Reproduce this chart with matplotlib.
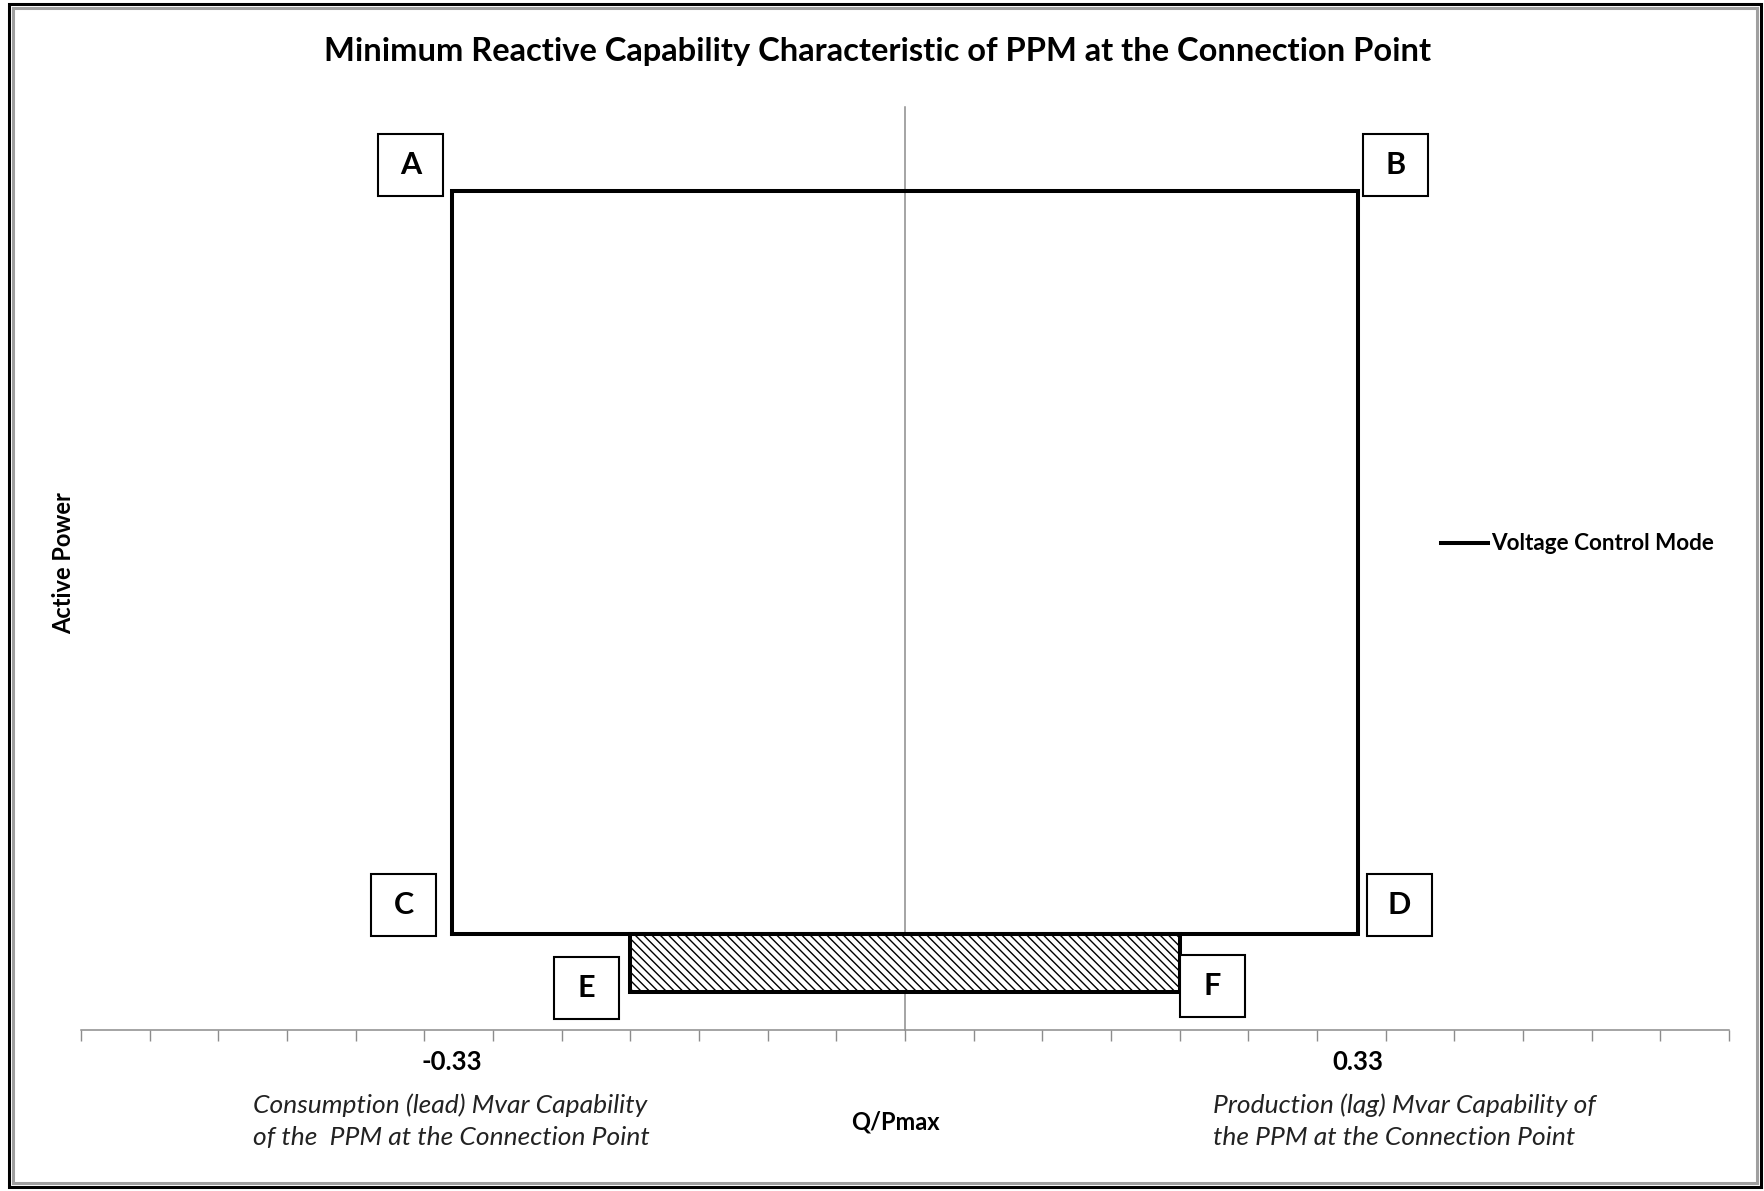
import matplotlib.pyplot as plt
import numpy as np
from matplotlib.patches import Rectangle

plt.rcParams["font.family"] = "Lato"

# ===============================
# capability envelope C -> A -> B -> D -> C  (Q/Pmax, active power p.u.)
env_q = [-0.33, -0.33, 0.33, 0.33, -0.33]
env_p = [0.115, 1.0, 1.0, 0.115, 0.115]

# hatched low-power band E-F
band_q = [-0.2, 0.2]
band_p = [0.045, 0.115]

# corner labels
pt_names = ['A', 'B', 'C', 'D', 'E', 'F']
pt_q = [-0.36, 0.357, -0.365, 0.36, -0.232, 0.224]
pt_p = [1.031, 1.031, 0.149, 0.149, 0.050, 0.052]

tick_vals = [-0.33, 0.33]
tick_text = ['-0.33', '0.33']

# ===============================
W, H = 1765, 1191
fig = plt.figure(figsize=(W / 100, H / 100), dpi=100)
ax = fig.add_axes([81 / W, 161 / H, (1729 - 81) / W, (1084 - 161) / H])
ax.set_xlim(-0.6, 0.6)
ax.set_ylim(0, 1.1)

grey = '#8c8c8c'
for s in ['top', 'right']:
    ax.spines[s].set_visible(False)
ax.spines['left'].set_position(('data', 0))
ax.spines['left'].set_color(grey)
ax.spines['bottom'].set_color(grey)
ax.spines['left'].set_linewidth(1.1)
ax.spines['bottom'].set_linewidth(1.1)
ax.set_yticks([])
ax.set_xticks(np.linspace(-0.6, 0.6, 25))
ax.set_xticklabels([])
ax.tick_params(axis='x', direction='out', length=8, width=1, color=grey)

# envelope
ax.plot(env_q, env_p, color='black', lw=2.9, solid_joinstyle='miter',
        label='Voltage Control Mode', zorder=4)

# hatched band
plt.rcParams['hatch.color'] = '#8a8a8a'
plt.rcParams['hatch.linewidth'] = 1.0
ax.add_patch(Rectangle((band_q[0], band_p[0]), band_q[1] - band_q[0], band_p[1] - band_p[0],
                       facecolor='white', edgecolor='black', lw=2.9, hatch='\\\\\\\\',
                       zorder=3))

# letter boxes
bw, bh = 65 / 1374, 62 / 839
for n, q, p in zip(pt_names, pt_q, pt_p):
    ax.add_patch(Rectangle((q - bw / 2, p - bh / 2), bw, bh, facecolor='white',
                           edgecolor='black', lw=1.5, clip_on=False, zorder=5))
    ax.text(q, p, n, ha='center', va='center', fontsize=22, fontweight='bold', zorder=6)

# +/-0.33 labels
for v, t in zip(tick_vals, tick_text):
    ax.text(v, -0.038, t, ha='center', va='center', fontsize=18.5, fontweight='bold',
            clip_on=False)

# texts
fig.text(878 / W, 1 - 51 / H, 'Minimum Reactive Capability Characteristic of PPM at the Connection Point',
         ha='center', va='center', fontsize=23.5, fontweight='bold')
fig.text(64 / W, 1 - 563 / H, 'Active Power', rotation=90, ha='center', va='center',
         fontsize=17, fontweight='bold')
fig.text(895 / W, 1 - 1122 / H, 'Q/Pmax', ha='center', va='center', fontsize=17, fontweight='bold')
fig.text(253 / W, 1 - 1121 / H, 'Consumption (lead) Mvar Capability\nof the  PPM at the Connection Point',
         ha='left', va='center', fontsize=19, style='italic', linespacing=1.45, color='#222222')
fig.text(1213 / W, 1 - 1121 / H, 'Production (lag) Mvar Capability of\nthe PPM at the Connection Point',
         ha='left', va='center', fontsize=19, style='italic', linespacing=1.45, color='#222222')

ax.legend(loc='center left', bbox_to_anchor=(1421 / W, 1 - 544 / H), bbox_transform=fig.transFigure,
          frameon=False, handlelength=2.1, handletextpad=0.1,
          prop={'weight': 'bold', 'size': 16.2})

# outer frame
fig.add_artist(Rectangle((9.5 / W, 4.5 / H), (1761 - 9.5) / W, (1187 - 4.5) / H,
                         transform=fig.transFigure, fill=False, edgecolor='black', lw=2.2))
fig.add_artist(Rectangle((13.5 / W, 8.5 / H), (1757 - 13.5) / W, (1183 - 8.5) / H,
                         transform=fig.transFigure, fill=False, edgecolor='#a0a0a0', lw=2.2))

plt.savefig('out.png', dpi=100)
